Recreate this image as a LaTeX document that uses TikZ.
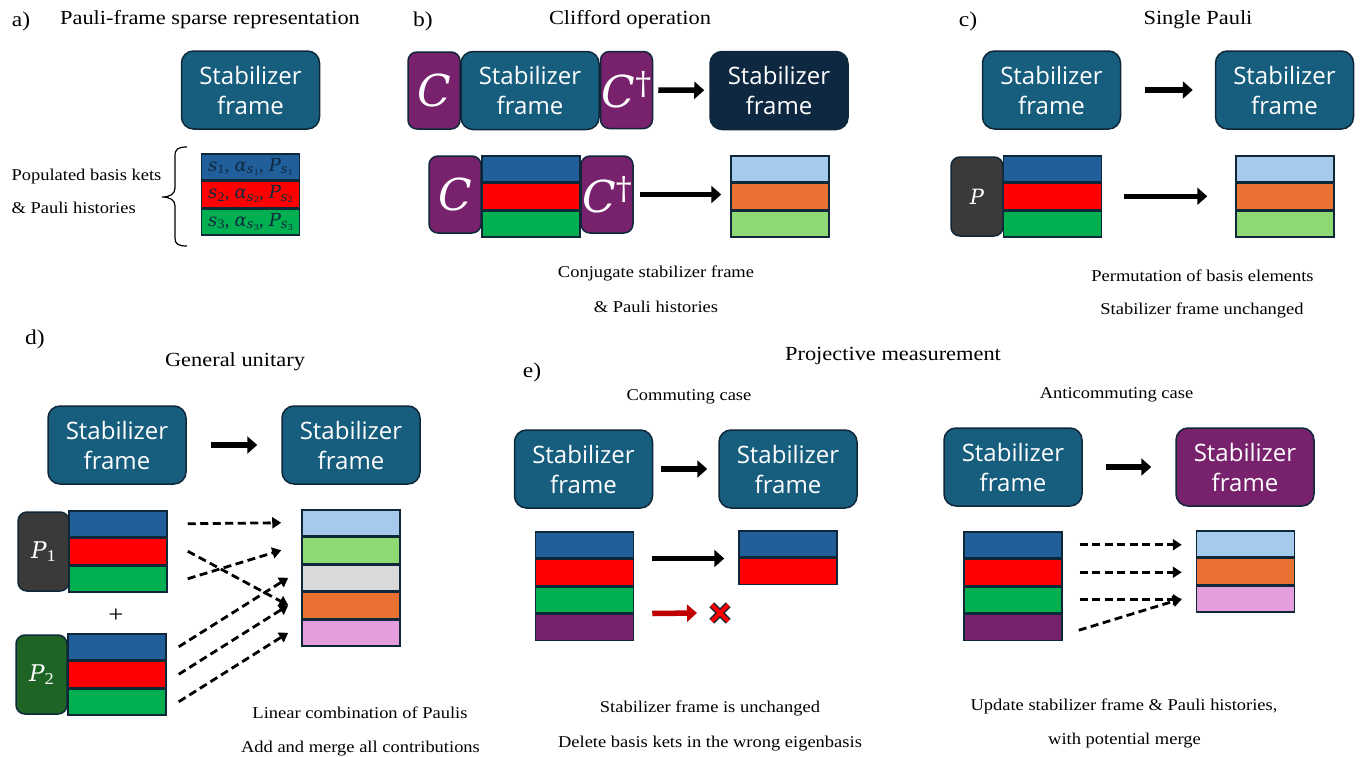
\documentclass[tikz,border=0pt]{standalone}
\usepackage{fontspec}
\setmainfont[FakeStretch=1.12]{Liberation Serif}
\newfontfamily\boxfont{Open Sans}
\newfontfamily\mathfnt{DejaVu Serif}
\usetikzlibrary{arrows.meta,calc}
\definecolor{frameblue}{RGB}{23,94,126}
\definecolor{edge}{RGB}{14,40,58}
\definecolor{navy}{RGB}{14,40,65}
\definecolor{purp}{RGB}{120,33,108}
\definecolor{kblue}{RGB}{33,95,154}
\definecolor{kred}{RGB}{255,0,0}
\definecolor{kgreen}{RGB}{0,176,80}
\definecolor{lblue}{RGB}{166,202,236}
\definecolor{korange}{RGB}{233,113,50}
\definecolor{lgreen}{RGB}{142,217,115}
\definecolor{kgray}{RGB}{217,217,217}
\definecolor{kpink}{RGB}{229,158,221}
\definecolor{pgray}{RGB}{58,58,58}
\definecolor{pgreen}{RGB}{30,100,36}
\definecolor{darkred}{RGB}{192,0,0}
\newcommand\mi[1]{{\mathfnt\itshape #1}}
\newcommand\sbs[1]{\raisebox{-0.3ex}{\scalebox{0.72}{#1}}}
\newcommand\kets[4]{\foreach \c [count=\i] in {#4} {\node[ket, fill=\c] (#1-\i) at (#2, {#3+13.75+27.5*(\i-1)}) {};}}
\begin{document}
\begin{tikzpicture}[x=1pt,y=-1pt,
 sf/.style={rounded corners=12pt, draw=edge, line width=1.5pt, fill=frameblue, text=white, minimum width=138pt, minimum height=78pt, inner sep=0pt, align=center, font=\boxfont\fontsize{24}{30}\selectfont},
 gate/.style={rounded corners=9pt, draw=edge, line width=1.5pt, fill=purp, text=white, minimum width=52pt, minimum height=77pt, inner sep=0pt},
 ket/.style={draw=edge, line width=1.5pt, minimum width=98pt, minimum height=26pt, inner sep=0pt},
 bigarrow/.style={line width=5.5pt, -{Triangle[length=10pt,width=17pt]}},
 dasharrow/.style={line width=2.8pt, dash pattern=on 8pt off 4.5pt, -{Triangle[length=9pt,width=11pt]}},
 ttl/.style={anchor=base, font=\fontsize{20}{24}\selectfont},
 plab/.style={anchor=base, font=\fontsize{21}{24}\selectfont},
 desc/.style={anchor=base, font=\fontsize{16.5}{20}\selectfont},
 rowtxt/.style={text=navy, font=\fontsize{18}{18}\selectfont},
 cfont/.style={font=\fontsize{44}{44}\selectfont},
]
\useasboundingbox (0,0) rectangle (1369,756);

% ---------------- a) ----------------
\node[plab] (la) at (21,26) {a)};
\node[ttl] (ta) at (210,24) {Pauli-frame sparse representation};
\node[sf] (af) at (250.5,90) {Stabilizer\\frame};
\node[ket, fill=kblue, rowtxt] (ar-1) at (250.5,166.75) {\mi{s}\sbs{1}, \mi{α}\sbs{\mi{s}\sbs{1}}, \mi{P}\sbs{\mi{s}\sbs{1}}};
\node[ket, fill=kred, rowtxt] (ar-2) at (250.5,194.25) {\mi{s}\sbs{2}, \mi{α}\sbs{\mi{s}\sbs{2}}, \mi{P}\sbs{\mi{s}\sbs{2}}};
\node[ket, fill=kgreen, rowtxt] (ar-3) at (250.5,221.75) {\mi{s}\sbs{3}, \mi{α}\sbs{\mi{s}\sbs{3}}, \mi{P}\sbs{\mi{s}\sbs{3}}};
\draw[line width=1.2pt] (187,147) .. controls (178,147) and (175,149) .. (175,156) -- (175,188) .. controls (175,194) and (170,197) .. (162,197) .. controls (170,197) and (175,200) .. (175,206) -- (175,238) .. controls (175,244) and (178,246) .. (187,246);
\node[desc, anchor=base west] (pa1) at (8,180) {Populated basis kets};
\node[desc, anchor=base west] (pa2) at (8,213) {\& Pauli histories};

% ---------------- b) ----------------
\node[plab] (lb) at (423,26) {b)};
\node[ttl] (tb) at (630,24) {Clifford operation};
\node[gate, cfont] (cb1) at (434,90.5) {\mi{C}};
\node[sf] (bf1) at (530,90.5) {Stabilizer\\frame};
\node[gate, cfont] (cdb1) at (626.5,90) {\mi{C}\raisebox{0.3em}{\scalebox{0.72}{\mathfnt †}}};
\node[sf, fill=navy] (bf2) at (779,90.5) {Stabilizer\\frame};
\draw[bigarrow, shorten <=5pt, shorten >=5pt] (cdb1) -- (bf2);
\node[gate, cfont] (cb2) at (455,194.5) {\mi{C}};
\kets{bi}{531}{155}{kblue,kred,kgreen}
\node[gate, cfont] (cdb2) at (607,194.5) {\mi{C}\raisebox{0.3em}{\scalebox{0.72}{\mathfnt †}}};
\kets{bo}{780}{155}{lblue,korange,lgreen}
\draw[bigarrow] ([xshift=6pt]cdb2.east) -- ([xshift=-9pt]cdb2.east -| bo-2.west);
\node[desc] (db1) at (656,277) {Conjugate stabilizer frame};
\node[desc] (db2) at (656,312) {\& Pauli histories};

% ---------------- c) ----------------
\node[plab] (lc) at (968,26) {c)};
\node[ttl] (tc) at (1198,24) {Single Pauli};
\node[sf] (cf1) at (1051.5,90) {Stabilizer\\frame};
\node[sf] (cf2) at (1284.5,90) {Stabilizer\\frame};
\draw[bigarrow, shorten <=24pt, shorten >=22pt] (cf1) -- (cf2);
\node[gate, fill=pgray, minimum height=79pt, font=\fontsize{21}{21}\selectfont] (pc) at (977,196.5) {\mi{P}};
\kets{ci}{1052.5}{155}{kblue,kred,kgreen}
\kets{co}{1285}{155}{lblue,korange,lgreen}
\draw[bigarrow] ([xshift=22pt]ci-2.east) -- ([xshift=-28pt]ci-2.east -| co-2.west);
\node[desc] (dc1) at (1202.5,281) {Permutation of basis elements};
\node[desc] (dc2) at (1202,314) {Stabilizer frame unchanged};

% ---------------- d) ----------------
\node[plab] (ld) at (35,344) {d)};
\node[ttl] (td) at (235,366) {General unitary};
\node[sf] (df1) at (117,445) {Stabilizer\\frame};
\node[sf] (df2) at (351,445) {Stabilizer\\frame};
\draw[bigarrow, shorten <=24pt, shorten >=24pt] (df1) -- (df2);
\node[gate, fill=pgray, minimum width=51pt, minimum height=79pt, font=\fontsize{23}{23}\selectfont] (p1) at (43.5,551.5) {\mi{P}\sbs{1}};
\kets{d1}{118}{510}{kblue,kred,kgreen}
\node[font=\fontsize{24}{24}\selectfont] (plus) at (116,616) {+};
\node[gate, fill=pgreen, minimum width=51pt, minimum height=79pt, font=\fontsize{23}{23}\selectfont] (p2) at (41.5,674.5) {\mi{P}\sbs{2}};
\kets{d2}{117}{633}{kblue,kred,kgreen}
\kets{do}{351}{509}{lblue,lgreen,kgray,korange,kpink}
\draw[dasharrow] ([xshift=20pt]d1-1.east) -- ([xshift=-20pt]do-1.west);
\draw[dasharrow] ([xshift=20pt]d1-3.east) -- ([xshift=-20pt]do-2.west);
\draw[dasharrow] ([xshift=20pt]d1-2.east) -- ([xshift=-13pt]do-4.west);
\draw[dasharrow] ([xshift=12pt]d2-1.east) -- ([xshift=-13pt]do-3.west);
\draw[dasharrow] ([xshift=12pt]d2-2.east) -- ([xshift=-13pt]do-4.west);
\draw[dasharrow] ([xshift=12pt]d2-3.east) -- ([xshift=-13pt]do-5.west);
\node[desc] (dd1) at (360,718) {Linear combination of Paulis};
\node[desc] (dd2) at (360.5,752) {Add and merge all contributions};

% ---------------- e) ----------------
\node[plab] (le) at (532,377) {e)};
\node[ttl] (te) at (893,360) {Projective measurement};
\node[desc] (ce1) at (689,400) {Commuting case};
\node[sf] (ef1) at (583.5,469) {Stabilizer\\frame};
\node[sf] (ef2) at (788,469) {Stabilizer\\frame};
\draw[bigarrow, shorten <=8pt, shorten >=11pt] (ef1) -- (ef2);
\kets{ei}{584.5}{531}{kblue,kred,kgreen,purp}
\kets{eo}{788}{530}{kblue,kred}
\draw[bigarrow] ([xshift=18pt]ei-1.south east) -- ([xshift=-14pt]ei-1.south east -| eo-1.west);
\node[minimum size=16pt, inner sep=0pt] (xx) at (720,613) {};
\draw[bigarrow, darkred] ([xshift=18pt]ei-3.south east) -- ([xshift=-23pt]xx.center);
\draw[edge, line width=7pt] (xx.north west) -- (xx.south east) (xx.north east) -- (xx.south west);
\draw[kred, line width=4.2pt] (xx.north west) -- (xx.south east) (xx.north east) -- (xx.south west);
\node[desc] (de1) at (710,712) {Stabilizer frame is unchanged};
\node[desc] (de2) at (710,747) {Delete basis kets in the wrong eigenbasis};

\node[desc] (ce2) at (1116.5,398) {Anticommuting case};
\node[sf] (gf1) at (1013,467) {Stabilizer\\frame};
\node[sf, fill=purp] (gf2) at (1245,467) {Stabilizer\\frame};
\draw[bigarrow, shorten <=23pt, shorten >=24pt] (gf1) -- (gf2);
\kets{gi}{1013}{531}{kblue,kred,kgreen,purp}
\kets{go}{1245.5}{530}{lblue,korange,kpink}
\draw[dasharrow] ([xshift=17pt]gi-1.east) -- ([xshift=-14pt]gi-1.east -| go-1.west);
\draw[dasharrow] ([xshift=17pt]gi-2.east) -- ([xshift=-14pt]gi-2.east -| go-2.west);
\draw[dasharrow] ([xshift=17pt]gi-3.east) -- ([xshift=-14pt]gi-3.east -| go-3.west);
\draw[dasharrow] ([xshift=16pt,yshift=-3pt]gi-4.east) -- ([xshift=-14pt]go-3.west);
\node[desc] (dg1) at (1124,710) {Update stabilizer frame \& Pauli histories,};
\node[desc] (dg2) at (1124.5,744) {with potential merge};
\end{tikzpicture}
\end{document}
